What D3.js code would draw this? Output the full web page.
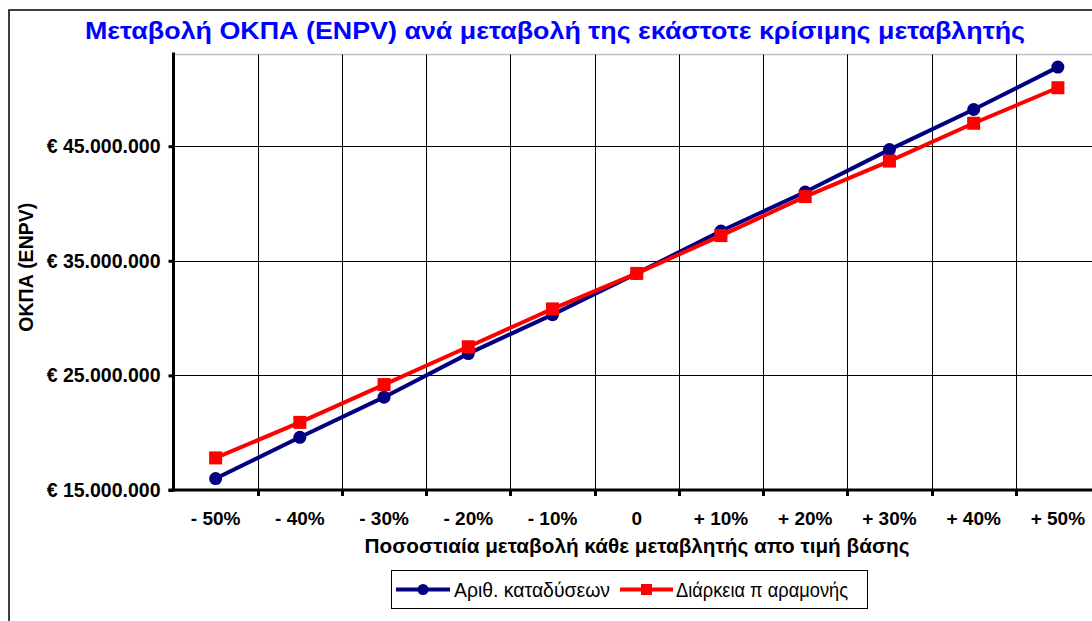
<!DOCTYPE html>
<html>
<head>
<meta charset="utf-8">
<script src="https://cdn.jsdelivr.net/npm/d3@7"></script>
<style>
  html, body { margin: 0; padding: 0; background: #fff; }
  svg { display: block; font-family: "Liberation Sans", Arial, sans-serif; }
</style>
</head>
<body>
<svg id="chart" width="1092" height="621"></svg>
<script>
const categories = ["- 50%", "- 40%", "- 30%", "- 20%", "- 10%", "0", "+ 10%", "+ 20%", "+ 30%", "+ 40%", "+ 50%"];
const diveCount = [16.0, 19.6, 23.1, 26.9, 30.3, 33.9, 37.6, 41.0, 44.7, 48.2, 51.9].map(v => v * 1e6);
const stayDuration = [17.8, 20.9, 24.2, 27.5, 30.8, 33.9, 37.2, 40.6, 43.7, 47.0, 50.1].map(v => v * 1e6);
const yTicks = [15e6, 25e6, 35e6, 45e6];
const seriesNames = ["Αριθ. καταδύσεων", "Διάρκεια π αραμονής"];
const titleText = "Μεταβολή ΟΚΠΑ (ENPV) ανά μεταβολή της εκάστοτε κρίσιμης μεταβλητής";
const yTitle = "ΟΚΠΑ (ENPV)";
const xTitle = "Ποσοστιαία μεταβολή κάθε μεταβλητής απο τιμή βάσης";

const svg = d3.select("#chart");
const pLeft = 173.5, pRight = 1100, pTop = 54.5, pBottom = 490;

const x = d3.scaleBand().domain(categories).range([pLeft, pRight]).padding(0);
const y = d3.scaleLinear().domain([15e6, 53e6]).range([pBottom, pTop]);

const loc = d3.formatLocale({decimal: ",", thousands: ".", grouping: [3], currency: ["€ ", ""]});
const fmt = v => "€ " + loc.format(",.0f")(v);

// outer chart border
svg.append("path").attr("d", "M9,621 V10 H1092").attr("fill", "none").attr("stroke", "#000").attr("stroke-width", 1.5);

// title
svg.append("text").attr("x", 555).attr("y", 39).attr("text-anchor", "middle")
  .attr("font-size", 24).attr("font-weight", "bold").attr("fill", "#0000ff")
  .attr("textLength", 940).attr("lengthAdjust", "spacingAndGlyphs")
  .text(titleText);

// plot top border (grey)
svg.append("line").attr("x1", pLeft).attr("x2", 1092).attr("y1", pTop).attr("y2", pTop)
  .attr("stroke", "#c0c0c0").attr("stroke-width", 1.5);

// vertical gridlines at category boundaries
const bounds = categories.slice(1).map(c => x(c));
svg.append("g").selectAll("line").data(bounds).join("line")
  .attr("x1", d => Math.round(d) + 0.5).attr("x2", d => Math.round(d) + 0.5)
  .attr("y1", pTop).attr("y2", pBottom).attr("stroke", "#000").attr("stroke-width", 1);

// horizontal gridlines
svg.append("g").selectAll("line").data(yTicks.slice(1)).join("line")
  .attr("x1", pLeft).attr("x2", 1092)
  .attr("y1", d => Math.round(y(d)) + 0.5).attr("y2", d => Math.round(y(d)) + 0.5)
  .attr("stroke", "#000").attr("stroke-width", 1);

// y axis
const yAxis = svg.append("g").attr("transform", `translate(${pLeft},0)`)
  .call(d3.axisLeft(y).tickValues(yTicks).tickFormat(fmt).tickSize(5).tickPadding(8));
yAxis.select(".domain").remove();
yAxis.selectAll(".tick line").attr("stroke", "#000").attr("stroke-width", 3);
yAxis.selectAll("text").attr("font-size", 19.5).attr("font-weight", "bold").attr("fill", "#000")
  .attr("font-family", "Liberation Sans, Arial, sans-serif");
svg.append("line").attr("x1", pLeft).attr("x2", pLeft).attr("y1", pTop - 2).attr("y2", pBottom + 1.5)
  .attr("stroke", "#000").attr("stroke-width", 3);

// x axis
const xAxis = svg.append("g").attr("transform", `translate(0,${pBottom})`)
  .call(d3.axisBottom(x).tickSize(0).tickPadding(22));
xAxis.select(".domain").remove();
xAxis.selectAll("text").attr("font-size", 19).attr("font-weight", "bold").attr("fill", "#000")
  .attr("font-family", "Liberation Sans, Arial, sans-serif");
svg.append("g").selectAll("line").data(bounds).join("line")
  .attr("x1", d => Math.round(d) + 0.5).attr("x2", d => Math.round(d) + 0.5)
  .attr("y1", pBottom).attr("y2", pBottom + 6).attr("stroke", "#000").attr("stroke-width", 3);
svg.append("line").attr("x1", pLeft - 5).attr("x2", 1092).attr("y1", pBottom).attr("y2", pBottom)
  .attr("stroke", "#000").attr("stroke-width", 3);

// axis titles
svg.append("text").attr("transform", `translate(33,${(pTop + pBottom) / 2 - 5}) rotate(-90)`)
  .attr("text-anchor", "middle").attr("font-size", 19.5).attr("font-weight", "bold").text(yTitle);
svg.append("text").attr("x", 637).attr("y", 553).attr("text-anchor", "middle")
  .attr("font-size", 20).attr("font-weight", "bold")
  .attr("textLength", 545).attr("lengthAdjust", "spacingAndGlyphs").text(xTitle);

// series
const cx = c => x(c) + x.bandwidth() / 2;
const line = d3.line().x((d, i) => cx(categories[i])).y(d => y(d));
const blue = "#000080", red = "#ff0000";

svg.append("path").datum(diveCount).attr("d", line).attr("fill", "none")
  .attr("stroke", blue).attr("stroke-width", 4);
svg.append("g").selectAll("circle").data(diveCount).join("circle")
  .attr("cx", (d, i) => cx(categories[i])).attr("cy", d => y(d)).attr("r", 6.5).attr("fill", blue);

svg.append("path").datum(stayDuration).attr("d", line).attr("fill", "none")
  .attr("stroke", red).attr("stroke-width", 4);
svg.append("g").selectAll("rect").data(stayDuration).join("rect")
  .attr("x", (d, i) => cx(categories[i]) - 6.5).attr("y", d => y(d) - 6.5)
  .attr("width", 13).attr("height", 13).attr("fill", red);

// legend
const lg = svg.append("g");
lg.append("rect").attr("x", 391.5).attr("y", 570.5).attr("width", 476).attr("height", 38)
  .attr("fill", "#fff").attr("stroke", "#000").attr("stroke-width", 1);
const ly = 589.5;
lg.append("line").attr("x1", 396).attr("x2", 450).attr("y1", ly).attr("y2", ly).attr("stroke", blue).attr("stroke-width", 4);
lg.append("circle").attr("cx", 423).attr("cy", ly).attr("r", 5.5).attr("fill", blue);
lg.append("text").attr("x", 454).attr("y", ly + 7).attr("font-size", 19.5)
  .attr("textLength", 156).attr("lengthAdjust", "spacingAndGlyphs").text(seriesNames[0]);
lg.append("line").attr("x1", 620).attr("x2", 673).attr("y1", ly).attr("y2", ly).attr("stroke", red).attr("stroke-width", 4);
lg.append("rect").attr("x", 641).attr("y", ly - 5.5).attr("width", 11).attr("height", 11).attr("fill", red);
lg.append("text").attr("x", 676).attr("y", ly + 7).attr("font-size", 19.5)
  .attr("textLength", 172).attr("lengthAdjust", "spacingAndGlyphs").text(seriesNames[1]);
</script>
</body>
</html>
